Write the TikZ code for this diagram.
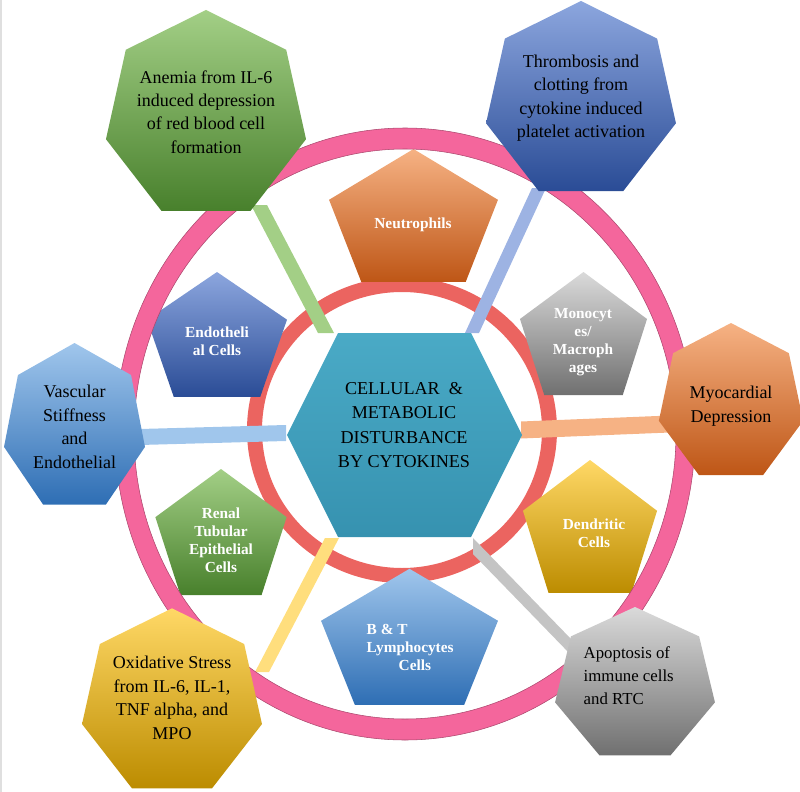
\documentclass[tikz,border=0pt]{standalone}
\usepackage{fontspec}
\setmainfont{Liberation Serif}
\usepackage{tikz}
\usetikzlibrary{positioning,calc}

\definecolor{grnT}{RGB}{163,207,134}
\definecolor{grnM}{RGB}{108,170,72}
\definecolor{grnB}{RGB}{72,128,44}
\definecolor{bluT}{RGB}{140,166,222}
\definecolor{bluM}{RGB}{70,112,196}
\definecolor{bluB}{RGB}{42,76,150}
\definecolor{skyT}{RGB}{160,198,236}
\definecolor{skyM}{RGB}{92,152,212}
\definecolor{skyB}{RGB}{46,110,180}
\definecolor{orgT}{RGB}{246,178,132}
\definecolor{orgM}{RGB}{236,126,52}
\definecolor{orgB}{RGB}{190,86,22}
\definecolor{gldT}{RGB}{255,216,102}
\definecolor{gldM}{RGB}{255,192,0}
\definecolor{gldB}{RGB}{188,140,0}
\definecolor{gryT}{RGB}{218,218,218}
\definecolor{gryM}{RGB}{166,166,166}
\definecolor{gryB}{RGB}{112,112,112}
\definecolor{hubT}{RGB}{74,170,198}
\definecolor{hubB}{RGB}{54,146,176}
\definecolor{ringpink}{RGB}{244,102,156}
\definecolor{ringred}{RGB}{235,100,96}

% polygon with a corner on top: sides, cx, cy, rx, ry, style
\newcommand{\ngon}[6]{%
  \path[#6] plot[samples at={0,...,#1}] ({#2+#4*sin(\x*360/#1)},{#3-#5*cos(\x*360/#1)}) -- cycle;}
% flat band between two points: from, to, half offset, colour
\newcommand{\band}[4]{%
  \fill[#4] ($(#1)+#3$) -- ($(#2)+#3$) -- ($(#2)-#3$) -- ($(#1)-#3$) -- cycle;}

\begin{document}
\begin{tikzpicture}[x=0.75pt, y=-0.75pt,
    hep/.style={align=center, text=black, font=\fontsize{13.5}{17.6}\selectfont},
    pen/.style={align=center, text=white, font=\bfseries\fontsize{11.5}{13.5}\selectfont},
    hubtxt/.style={align=center, text=black, font=\fontsize{13.6}{18.4}\selectfont},
    grnshade/.style={top color=grnT, middle color=grnM, bottom color=grnB},
    blushade/.style={top color=bluT, middle color=bluM, bottom color=bluB},
    skyshade/.style={top color=skyT, middle color=skyM, bottom color=skyB},
    orgshade/.style={top color=orgT, middle color=orgM, bottom color=orgB},
    gldshade/.style={top color=gldT, middle color=gldM, bottom color=gldB},
    gryshade/.style={top color=gryT, middle color=gryM, bottom color=gryB}]
  \useasboundingbox (0,0) rectangle (800,792);
  \fill[gray!25] (0,0) rectangle (2,792);

  % inner ring
  \fill[ringred, even odd rule] (402,430) ellipse [x radius=155, y radius=153]
    (402,430) ellipse [x radius=140, y radius=138];

  % hub corners
  \coordinate (hub-w) at (287,435);
  \coordinate (hub-nw) at (338,333);
  \coordinate (hub-ne) at (471,333);
  \coordinate (hub-e) at (522,435);
  \coordinate (hub-se) at (471,537);
  \coordinate (hub-sw) at (338,537);

  % band ends
  \coordinate (anemia-foot) at (259,205);
  \coordinate (anemia-tip) at (326,333);
  \coordinate (thromb-foot) at (539,188);
  \coordinate (thromb-tip) at (472,333);
  \coordinate (vasc-foot) at (140,437);
  \coordinate (vasc-tip) at (286,433);
  \coordinate (myo-foot) at (670,424);
  \coordinate (myo-tip) at (521,430);
  \coordinate (oxid-foot) at (262,672);
  \coordinate (oxid-tip) at (332,538);
  \coordinate (apop-foot) at (572,648);
  \coordinate (apop-tip) at (473,546);

  \band{anemia-foot}{anemia-tip}{(8,0)}{grnT}
  \band{thromb-foot}{thromb-tip}{(7,0)}{bluT!85!white}
  \band{vasc-foot}{vasc-tip}{(0,8)}{skyT}
  \band{myo-foot}{myo-tip}{(0,8.5)}{orgT}
  \band{oxid-foot}{oxid-tip}{(7,0)}{gldT!85!white}
  \band{apop-foot}{apop-tip}{(0,8)}{gryT!90!black}

  % hub
  \path[top color=hubT, bottom color=hubB] (hub-w) -- (hub-nw) -- (hub-ne)
    -- (hub-e) -- (hub-se) -- (hub-sw) -- cycle;
  \node[hubtxt] (hub) at (404,425) {CELLULAR \ \&\\METABOLIC\\DISTURBANCE\\BY CYTOKINES};

  % cells
  \ngon{5}{413.5}{222.5}{88.8}{73.5}{orgshade}
  \node[pen] (neut) at (413,225) {Neutrophils};
  \ngon{5}{217}{341}{73.6}{69}{blushade}
  \node[pen] (endo) at (217,341) {Endotheli\\al Cells};
  \ngon{5}{583.5}{340}{66.8}{68}{gryshade}
  \node[pen] (mono) at (583,342) {Monocyt\\es/\\Macroph\\ages};
  \ngon{5}{590}{533.5}{70.5}{73.5}{gldshade}
  \node[pen] (dend) at (594,533) {Dendritic\\Cells};
  \ngon{5}{409.5}{644}{93}{75.2}{skyshade}
  \node[pen, align=left, anchor=west] (lymph) at (362,647) {B \& T\\Lymphocytes\\\hspace*{24pt}Cells};
  \ngon{5}{221}{538.7}{69}{69.7}{grnshade}
  \node[pen] (renal) at (221,540) {Renal\\Tubular\\Epithelial\\Cells};

  % outer ring
  \fill[ringpink, even odd rule, draw=ringpink!70!black, line width=0.4pt]
    (405,434) ellipse [x radius=290, y radius=306]
    (405,434) ellipse [x radius=271, y radius=285];

  % effects
  \ngon{7}{206}{115.7}{102.6}{105.7}{grnshade}
  \node[hep] (anemia) at (206,112) {Anemia from IL-6\\induced depression\\of red blood cell\\formation};
  \ngon{7}{581}{101}{97.4}{100}{blushade}
  \node[hep] (thromb) at (581,98) {Thrombosis and\\clotting from\\cytokine induced\\platelet activation};
  \ngon{7}{74.5}{428}{72.3}{85}{skyshade}
  \node[hep] (vasc) at (74.5,427) {Vascular\\Stiffness\\and\\Endothelial};
  \ngon{7}{731}{403}{74}{80}{orgshade}
  \node[hep] (myo) at (731,406) {Myocardial\\Depression};
  \ngon{7}{172}{703}{92.3}{94.7}{gldshade}
  \node[hep] (oxid) at (172,698) {Oxidative Stress\\from IL-6, IL-1,\\TNF alpha, and\\MPO};
  \ngon{7}{635}{685}{82}{78}{gryshade}
  \node[hep, align=left, anchor=west, font=\fontsize{12.6}{17.2}\selectfont] (apop) at (579,676) {Apoptosis of\\immune cells\\and RTC};
\end{tikzpicture}
\end{document}
